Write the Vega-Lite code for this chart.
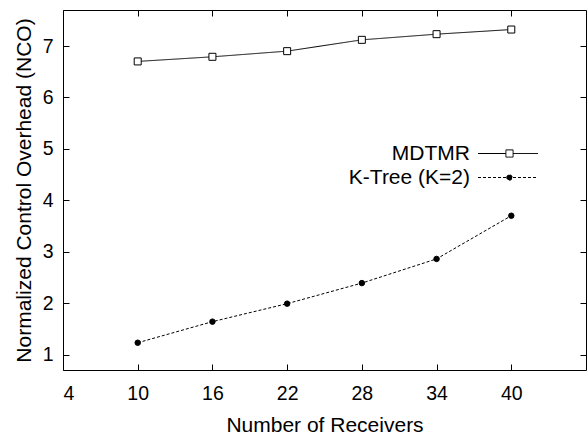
{
  "$schema": "https://vega.github.io/schema/vega-lite/v6.json",
  "width": 523,
  "height": 360,
  "autosize": {"type": "none"},
  "padding": {"left": 63, "top": 10, "right": 2, "bottom": 66},
  "background": "white",
  "config": {
    "view": {"stroke": "black", "strokeWidth": 1},
    "font": "Liberation Sans",
    "axis": {
      "grid": false,
      "domain": false,
      "tickColor": "black",
      "tickSize": -6,
      "labelColor": "black",
      "titleColor": "black",
      "labelFont": "Liberation Sans",
      "titleFont": "Liberation Sans",
      "labelFontSize": 19.5,
      "titleFontSize": 21,
      "titleFontWeight": "normal"
    },
    "legend": {
      "orient": "none",
      "legendX": 434.5,
      "legendY": 133,
      "padding": 0,
      "labelAlign": "right",
      "labelOffset": -48.5,
      "labelFont": "Liberation Sans",
      "labelFontSize": 21,
      "labelColor": "black",
      "labelLimit": 400,
      "symbolSize": 100,
      "symbolOpacity": 1,
      "symbolStrokeColor": "black",
      "symbolFillColor": "white",
      "symbolStrokeWidth": 1,
      "rowPadding": 2
    }
  },
  "data": {
    "values": [
      {"receivers": 10, "nco": 6.70, "series": "MDTMR"},
      {"receivers": 16, "nco": 6.79, "series": "MDTMR"},
      {"receivers": 22, "nco": 6.90, "series": "MDTMR"},
      {"receivers": 28, "nco": 7.12, "series": "MDTMR"},
      {"receivers": 34, "nco": 7.23, "series": "MDTMR"},
      {"receivers": 40, "nco": 7.32, "series": "MDTMR"},
      {"receivers": 10, "nco": 1.23, "series": "K-Tree (K=2)"},
      {"receivers": 16, "nco": 1.64, "series": "K-Tree (K=2)"},
      {"receivers": 22, "nco": 1.99, "series": "K-Tree (K=2)"},
      {"receivers": 28, "nco": 2.39, "series": "K-Tree (K=2)"},
      {"receivers": 34, "nco": 2.86, "series": "K-Tree (K=2)"},
      {"receivers": 40, "nco": 3.70, "series": "K-Tree (K=2)"}
    ]
  },
  "resolve": {
    "scale": {"shape": "independent", "fill": "independent", "strokeDash": "independent", "size": "independent"},
    "legend": {"shape": "independent", "fill": "independent", "strokeDash": "independent", "size": "independent"}
  },
  "layer": [
    {
      "mark": {"type": "line", "color": "black", "strokeWidth": 1},
      "encoding": {
        "x": {
          "field": "receivers", "type": "quantitative",
          "scale": {"domain": [4, 46], "nice": false, "zero": false},
          "axis": {"orient": "bottom", "values": [4, 10, 16, 22, 28, 34, 40], "title": "Number of Receivers", "labelPadding": 20, "titlePadding": 12}
        },
        "y": {
          "field": "nco", "type": "quantitative",
          "scale": {"domain": [0.7, 7.7], "nice": false, "zero": false},
          "axis": {"orient": "left", "values": [1, 2, 3, 4, 5, 6, 7], "title": "Normalized Control Overhead (NCO)", "labelPadding": 16, "titlePadding": 8}
        },
        "strokeDash": {
          "field": "series", "type": "nominal",
          "scale": {"domain": ["MDTMR", "K-Tree (K=2)"], "range": [[1, 0], [3, 2]]},
          "legend": null
        }
      }
    },
    {
      "mark": {"type": "point", "filled": true, "stroke": "black", "strokeWidth": 1, "opacity": 1},
      "encoding": {
        "x": {
          "field": "receivers", "type": "quantitative",
          "axis": {"orient": "top", "values": [4, 10, 16, 22, 28, 34, 40], "labels": false, "title": null}
        },
        "y": {
          "field": "nco", "type": "quantitative",
          "axis": {"orient": "right", "values": [1, 2, 3, 4, 5, 6, 7], "labels": false, "title": null}
        },
        "shape": {
          "field": "series", "type": "nominal",
          "scale": {"domain": ["MDTMR", "K-Tree (K=2)"], "range": ["square", "circle"]},
          "legend": null
        },
        "fill": {
          "field": "series", "type": "nominal",
          "scale": {"domain": ["MDTMR", "K-Tree (K=2)"], "range": ["white", "black"]},
          "legend": null
        },
        "size": {
          "field": "series", "type": "nominal",
          "scale": {"domain": ["MDTMR", "K-Tree (K=2)"], "range": [49, 30]},
          "legend": null
        }
      }
    },
    {
      "mark": {"type": "point", "filled": true, "opacity": 0},
      "encoding": {
        "x": {"field": "receivers", "type": "quantitative", "axis": null},
        "y": {"field": "nco", "type": "quantitative", "axis": null},
        "shape": {
          "field": "series", "type": "nominal",
          "scale": {"domain": ["MDTMR", "K-Tree (K=2)"], "range": ["M-6,0H-0.42M1.02,0H6M-0.42,-0.72H1.02V0.72H-0.42Z", "M-6,0H6M-0.25,0A0.55,0.55,0,1,1,0.85,0A0.55,0.55,0,1,1,-0.25,0Z"]},
          "legend": {"title": null}
        },
        "fill": {
          "field": "series", "type": "nominal",
          "scale": {"domain": ["MDTMR", "K-Tree (K=2)"], "range": ["white", "black"]},
          "legend": {"title": null}
        },
        "strokeDash": {
          "field": "series", "type": "nominal",
          "scale": {"domain": ["MDTMR", "K-Tree (K=2)"], "range": [[1, 0], [3, 2]]},
          "legend": {"title": null}
        }
      }
    }
  ]
}
